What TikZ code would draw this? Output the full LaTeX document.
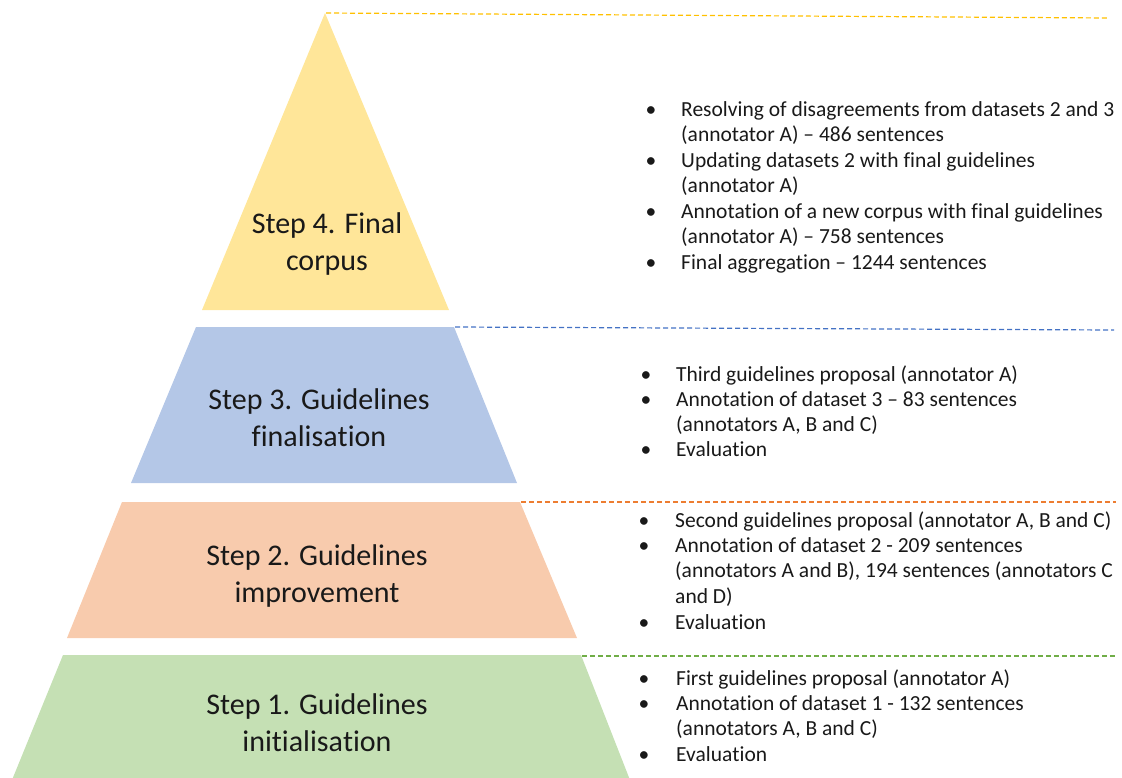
\documentclass[tikz,border=0pt]{standalone}
\usepackage{fontspec}
\setmainfont{Carlito}[Ligatures={NoCommon,NoContextual},Contextuals={NoAlternate}]
\newcommand{\nolig}{\kern0pt}
\definecolor{yfill}{HTML}{FFE699}
\definecolor{bfill}{HTML}{B4C7E7}
\definecolor{ofill}{HTML}{F8CBAD}
\definecolor{gfill}{HTML}{C5E0B4}
\definecolor{yline}{HTML}{FFC000}
\definecolor{bline}{HTML}{4472C4}
\definecolor{oline}{HTML}{ED7D31}
\definecolor{gline}{HTML}{70AD47}
\tikzset{
  steplabel/.style={anchor=base, inner sep=0pt, font=\fontsize{30}{36}\selectfont, text=black!90},
  itemline/.style={anchor=base west, inner sep=0pt, font=\fontsize{21.5}{26}\selectfont, text=black!90},
  bulletmark/.style={anchor=base, inner sep=0pt, font=\fontsize{21.5}{26}\selectfont, text=black!90},
  guide/.style={dash pattern=on 5pt off 3pt, line width=1.2pt},
}
\begin{document}
\begin{tikzpicture}[x=1pt,y=-1pt]
\useasboundingbox (0,0) rectangle (1122,777);
% pyramid layers
\fill[yfill] (325,13) -- (449,310) -- (202,310) -- cycle;
\fill[bfill] (196,327) -- (454,327) -- (517,483) -- (131,483) -- cycle;
\fill[ofill] (122,502) -- (520,502) -- (577,638) -- (67,638) -- cycle;
\fill[gfill] (63,655) -- (581,655) -- (630,780) -- (12,780) -- cycle;
% corner coordinates for guide lines
\coordinate (c4) at (326,13);
\coordinate (e4) at (1108,18);
\coordinate (c3) at (455,327);
\coordinate (e3) at (1114,330);
\coordinate (c2) at (521,502);
\coordinate (e2) at (1116,502);
\coordinate (c1) at (582,656);
\coordinate (e1) at (1116,656);
\draw[guide, yline] (c4) -- (e4);
\draw[guide, bline] (c3) -- (e3);
\draw[guide, oline] (c2) -- (e2);
\draw[guide, gline] (c1) -- (e1);
% step labels
\node[steplabel] (s4a) at (327,233) {Step 4. Final};
\node[steplabel] (s4b) at (327,270) {corpus};
\node[steplabel] (s3a) at (319,409) {Step 3. Guidelines};
\node[steplabel] (s3b) at (319,446) {finalisa\nolig tion};
\node[steplabel] (s2a) at (317,565) {Step 2. Guidelines};
\node[steplabel] (s2b) at (317,602) {improvement};
\node[steplabel] (s1a) at (317,714) {Step 1. Guidelines};
\node[steplabel] (s1b) at (317,751) {initialisa\nolig tion};
% step 4 bullets
\node[bulletmark] (b41) at (651,116) {•};
\node[itemline] (t41a) at (681,116) {Resolving of disagreements from datasets 2 and 3};
\node[itemline] (t41b) at (681,141.5) {(annotator A) – 486 sentences};
\node[bulletmark] (b42) at (651,167) {•};
\node[itemline] (t42a) at (681,167) {Updating datasets 2 with final guidelines};
\node[itemline] (t42b) at (681,192.5) {(annotator A)};
\node[bulletmark] (b43) at (651,218) {•};
\node[itemline] (t43a) at (681,218) {Annotation of a new corpus with final guidelines};
\node[itemline] (t43b) at (681,243.5) {(annotator A) – 758 sentences};
\node[bulletmark] (b44) at (651,269) {•};
\node[itemline] (t44a) at (681,269) {Final aggregation – 1244 sentences};
% step 3 bullets
\node[bulletmark] (b31) at (646,381) {•};
\node[itemline] (t31a) at (676,381) {Third guidelines proposal (annotator A)};
\node[bulletmark] (b32) at (646,406) {•};
\node[itemline] (t32a) at (676,406) {Annotation of dataset 3 – 83 sentences};
\node[itemline] (t32b) at (676,431) {(annotators A, B and C)};
\node[bulletmark] (b33) at (646,456) {•};
\node[itemline] (t33a) at (676,456) {Evalua\nolig tion};
% step 2 bullets
\node[bulletmark] (b21) at (644,527) {•};
\node[itemline] (t21a) at (675,527) {Second guidelines proposal (annotator A, B and C)};
\node[bulletmark] (b22) at (644,552) {•};
\node[itemline] (t22a) at (675,552) {Annotation of dataset 2 - 209 sentences};
\node[itemline] (t22b) at (675,577.5) {(annotators A and B), 194 sentences (annotators C};
\node[itemline] (t22c) at (675,603) {and D)};
\node[bulletmark] (b23) at (644,629) {•};
\node[itemline] (t23a) at (675,629) {Evalua\nolig tion};
% step 1 bullets
\node[bulletmark] (b11) at (644,685) {•};
\node[itemline] (t11a) at (676,685) {First guidelines proposal (annotator A)};
\node[bulletmark] (b12) at (644,710) {•};
\node[itemline] (t12a) at (676,710) {Annotation of dataset 1 - 132 sentences};
\node[itemline] (t12b) at (676,735) {(annotators A, B and C)};
\node[bulletmark] (b13) at (644,761) {•};
\node[itemline] (t13a) at (676,761) {Evalua\nolig tion};
\end{tikzpicture}
\end{document}
